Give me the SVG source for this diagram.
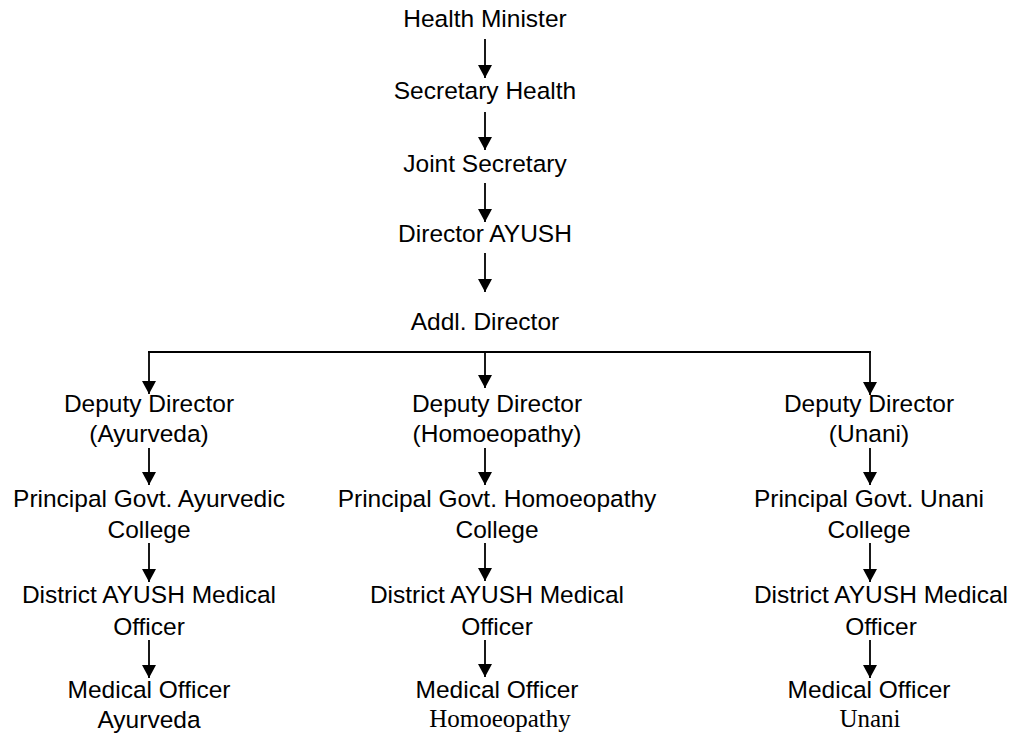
<svg xmlns="http://www.w3.org/2000/svg" width="1012" height="740" viewBox="0 0 1012 740">
<defs>
<style>
.t{font-family:"Liberation Sans",Arial,sans-serif;font-size:24.5px;fill:#000;text-anchor:middle}
.s{font-family:"Liberation Serif","Times New Roman",serif;font-size:25px;fill:#000;text-anchor:middle}
.c{stroke:#000;stroke-width:1.8;fill:none}
.a{marker-end:url(#ah)}
</style>
<marker id="ah" viewBox="0 0 13 14" markerWidth="13" markerHeight="14" refX="13" refY="7" orient="auto" markerUnits="userSpaceOnUse">
<path d="M0,0 L13,7 L0,14 z" fill="#000"/>
</marker>
</defs>
<rect width="1012" height="740" fill="#fff"/>
<g id="connectors">
<line class="c a" x1="485" y1="39" x2="485" y2="78"/>
<line class="c a" x1="485" y1="112" x2="485" y2="150"/>
<line class="c a" x1="485" y1="183" x2="485" y2="222"/>
<line class="c a" x1="485" y1="253" x2="485" y2="292"/>
<line class="c" x1="148" y1="352" x2="871" y2="352"/>
<line class="c a" x1="149" y1="352" x2="149" y2="394"/>
<line class="c a" x1="485" y1="352" x2="485" y2="388"/>
<line class="c a" x1="870" y1="352" x2="870" y2="395"/>
<line class="c a" x1="149" y1="448" x2="149" y2="485"/>
<line class="c a" x1="149" y1="543" x2="149" y2="582"/>
<line class="c a" x1="149" y1="640" x2="149" y2="678"/>
<line class="c a" x1="485" y1="448" x2="485" y2="485"/>
<line class="c a" x1="485" y1="543" x2="485" y2="581"/>
<line class="c a" x1="485" y1="640" x2="485" y2="677"/>
<line class="c a" x1="870" y1="448" x2="870" y2="485"/>
<line class="c a" x1="870" y1="543" x2="870" y2="582"/>
<line class="c a" x1="870" y1="640" x2="870" y2="678"/>
</g>
<g id="health-minister"><text class="t" x="485" y="27">Health Minister</text></g>
<g id="secretary-health"><text class="t" x="485" y="99">Secretary Health</text></g>
<g id="joint-secretary"><text class="t" x="485" y="172">Joint Secretary</text></g>
<g id="director-ayush"><text class="t" x="485" y="242">Director AYUSH</text></g>
<g id="addl-director"><text class="t" x="485" y="330">Addl. Director</text></g>

<g id="dd-ayurveda"><text class="t" x="149" y="412">Deputy Director</text><text class="t" x="149" y="442">(Ayurveda)</text></g>
<g id="principal-ayurvedic"><text class="t" x="149" y="507">Principal Govt. Ayurvedic</text><text class="t" x="149" y="538">College</text></g>
<g id="damo-ayurveda"><text class="t" x="149" y="603">District AYUSH Medical</text><text class="t" x="149" y="635">Officer</text></g>
<g id="mo-ayurveda"><text class="t" x="149" y="698">Medical Officer</text><text class="t" x="149" y="728">Ayurveda</text></g>

<g id="dd-homoeopathy"><text class="t" x="497" y="412">Deputy Director</text><text class="t" x="497" y="442">(Homoeopathy)</text></g>
<g id="principal-homoeopathy"><text class="t" x="497" y="507">Principal Govt. Homoeopathy</text><text class="t" x="497" y="538">College</text></g>
<g id="damo-homoeopathy"><text class="t" x="497" y="603">District AYUSH Medical</text><text class="t" x="497" y="635">Officer</text></g>
<g id="mo-homoeopathy"><text class="t" x="497" y="698">Medical Officer</text><text class="s" x="500" y="727">Homoeopathy</text></g>

<g id="dd-unani"><text class="t" x="869" y="412">Deputy Director</text><text class="t" x="869" y="442">(Unani)</text></g>
<g id="principal-unani"><text class="t" x="869" y="507">Principal Govt. Unani</text><text class="t" x="869" y="538">College</text></g>
<g id="damo-unani"><text class="t" x="881" y="603">District AYUSH Medical</text><text class="t" x="881" y="635">Officer</text></g>
<g id="mo-unani"><text class="t" x="869" y="698">Medical Officer</text><text class="s" x="870" y="727">Unani</text></g>
</svg>
